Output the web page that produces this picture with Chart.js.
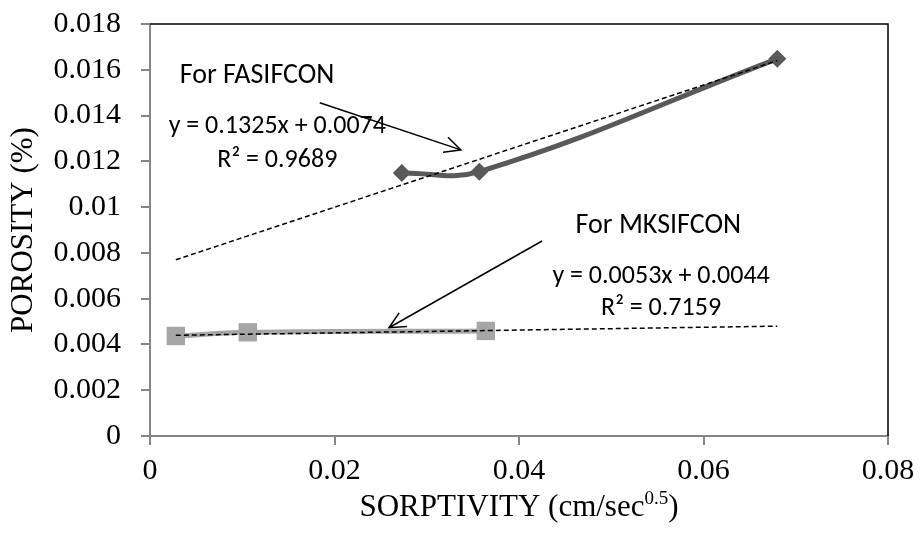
<!DOCTYPE html>
<html>
<head>
<meta charset="utf-8">
<script src="https://cdn.jsdelivr.net/npm/chart.js@4.4.1/dist/chart.umd.min.js"></script>
<style>
    html, body { margin: 0; padding: 0; background: #fff; }
    #wrap { width: 919px; height: 533px; }
</style>
</head>
<body>
<div id="wrap"><canvas id="chart"></canvas></div>
<script>
const xTicks = [0, 0.02, 0.04, 0.06, 0.08];
const xTickLabels = ['0', '0.02', '0.04', '0.06', '0.08'];
const yTicks = [0, 0.002, 0.004, 0.006, 0.008, 0.01, 0.012, 0.014, 0.016, 0.018];
const yTickLabels = ['0', '0.002', '0.004', '0.006', '0.008', '0.01', '0.012', '0.014', '0.016', '0.018'];

// measured points
const fasifconX = [0.0273, 0.0357, 0.0680];
const fasifconY = [0.01149, 0.01155, 0.01648];
const mksifconX = [0.0028, 0.0106, 0.0364];
const mksifconY = [0.00437, 0.00453, 0.00459];

// linear trend lines, end points
const fasifconTrendX = [0.0028, 0.068];
const fasifconTrendY = [0.0077, 0.0164];
const mksifconTrendX = [0.0028, 0.068];
const mksifconTrendY = [0.0044, 0.0048];

const xTitle = 'SORPTIVITY (cm/sec';
const xTitleSup = '0.5';
const yTitle = 'POROSITY (%)';

// text notes and arrows, placed in data units
const noteHeads = [
    { text: 'For FASIFCON', x: 0.0116, y: 0.01541 },
    { text: 'For MKSIFCON', x: 0.0551, y: 0.00887 },
];
const noteEquations = [
    { text: 'y = 0.1325x + 0.0074', x: 0.0138, y: 0.01322 },
    { text: 'R² = 0.9689', x: 0.0138, y: 0.01177 },
    { text: 'y = 0.0053x + 0.0044', x: 0.0554, y: 0.00667 },
    { text: 'R² = 0.7159', x: 0.0554, y: 0.00529 },
];
const arrows = [
    { from: [0.0184, 0.01456], to: [0.0337, 0.0125] },
    { from: [0.0425, 0.00852], to: [0.0259, 0.00473] },
];

const pts = (xs, ys) => xs.map((x, i) => ({ x, y: ys[i] }));

const AXIS_GREY = '#868686';
const SERIF = "'Liberation Serif', 'Times New Roman', serif";
const SANS = "Carlito, Calibri, Lato, sans-serif";

const extras = {
    id: 'extras',
    afterDatasetsDraw(chart) {
        const { ctx, chartArea: a, scales: { x, y } } = chart;
        ctx.save();
        // black frame on top and right
        ctx.strokeStyle = '#000';
        ctx.lineWidth = 1.5;
        ctx.beginPath();
        ctx.moveTo(a.left, a.top);
        ctx.lineTo(a.right, a.top);
        ctx.lineTo(a.right, a.bottom);
        ctx.stroke();

        // arrows
        arrows.forEach((ar) => {
            const x1 = x.getPixelForValue(ar.from[0]), y1 = y.getPixelForValue(ar.from[1]);
            const x2 = x.getPixelForValue(ar.to[0]), y2 = y.getPixelForValue(ar.to[1]);
            const ang = Math.atan2(y2 - y1, x2 - x1);
            const h = 18;
            ctx.beginPath();
            ctx.moveTo(x1, y1);
            ctx.lineTo(x2, y2);
            ctx.moveTo(x2 - h * Math.cos(ang - 0.45), y2 - h * Math.sin(ang - 0.45));
            ctx.lineTo(x2, y2);
            ctx.lineTo(x2 - h * Math.cos(ang + 0.45), y2 - h * Math.sin(ang + 0.45));
            ctx.stroke();
        });

        // notes
        ctx.fillStyle = '#000';
        ctx.textAlign = 'center';
        ctx.textBaseline = 'alphabetic';
        ctx.font = `28px ${SANS}`;
        noteHeads.forEach((n) => ctx.fillText(n.text, x.getPixelForValue(n.x), y.getPixelForValue(n.y)));
        ctx.font = `26px ${SANS}`;
        noteEquations.forEach((n) => ctx.fillText(n.text, x.getPixelForValue(n.x), y.getPixelForValue(n.y)));

        // x axis title with superscript
        ctx.textAlign = 'left';
        const big = `31px ${SERIF}`, small = `19px ${SERIF}`;
        ctx.font = big;
        const w1 = ctx.measureText(xTitle).width;
        const w3 = ctx.measureText(')').width;
        ctx.font = small;
        const w2 = ctx.measureText(xTitleSup).width;
        const cx = (a.left + a.right) / 2;
        const base = 516;
        let tx = cx - (w1 + w2 + w3) / 2;
        ctx.font = big;
        ctx.fillText(xTitle, tx, base);
        tx += w1;
        ctx.font = small;
        ctx.fillText(xTitleSup, tx, base - 12);
        tx += w2;
        ctx.font = big;
        ctx.fillText(')', tx, base);
        ctx.restore();
    },
};

new Chart(document.getElementById('chart'), {
    type: 'scatter',
    data: {
        datasets: [
            {
                label: 'FASIFCON trend', data: pts(fasifconTrendX, fasifconTrendY), order: 0,
                showLine: true, borderColor: '#000', borderWidth: 1.5, borderDash: [5, 3],
                pointRadius: 0, tension: 0,
            },
            {
                label: 'MKSIFCON trend', data: pts(mksifconTrendX, mksifconTrendY), order: 0,
                showLine: true, borderColor: '#000', borderWidth: 1.5, borderDash: [5, 3],
                pointRadius: 0, tension: 0,
            },
            {
                label: 'FASIFCON', data: pts(fasifconX, fasifconY), order: 1,
                showLine: true, borderColor: '#595959', backgroundColor: '#595959', borderWidth: 5,
                pointStyle: 'rectRot', pointRadius: 9, pointBorderWidth: 0, tension: 0.4,
            },
            {
                label: 'MKSIFCON', data: pts(mksifconX, mksifconY), order: 1,
                showLine: true, borderColor: '#a6a6a6', backgroundColor: '#a6a6a6', borderWidth: 5,
                pointStyle: 'rect', pointRadius: 13, pointBorderWidth: 0, tension: 0.4,
            },
        ],
    },
    options: {
        responsive: true,
        maintainAspectRatio: false,
        animation: false,
        layout: { padding: { top: 24, right: 31, left: 0, bottom: 0 } },
        plugins: { legend: { display: false }, tooltip: { enabled: false } },
        scales: {
            x: {
                type: 'linear', min: 0, max: 0.08,
                afterBuildTicks: (s) => { s.ticks = xTicks.map((v) => ({ value: v })); },
                afterFit: (s) => { s.height = 97; s.paddingLeft = 0; s.paddingRight = 0; },
                ticks: {
                    callback: (v) => xTickLabels[xTicks.indexOf(v)],
                    font: { family: SERIF, size: 30 }, color: '#000', padding: 8,
                },
                grid: { drawOnChartArea: false, drawTicks: true, tickLength: 9, color: AXIS_GREY, lineWidth: 2 },
                border: { color: AXIS_GREY, width: 2 },
            },
            y: {
                type: 'linear', min: 0, max: 0.018,
                afterBuildTicks: (s) => { s.ticks = yTicks.map((v) => ({ value: v })); },
                afterFit: (s) => { s.width = 150; s.paddingTop = 0; s.paddingBottom = 0; },
                ticks: {
                    callback: (v) => yTickLabels[yTicks.findIndex((t) => Math.abs(t - v) < 1e-9)],
                    font: { family: SERIF, size: 30 }, color: '#000', padding: 20,
                },
                grid: { drawOnChartArea: false, drawTicks: true, tickLength: 9, color: AXIS_GREY, lineWidth: 2 },
                border: { color: AXIS_GREY, width: 2 },
                title: { display: true, text: yTitle, font: { family: SERIF, size: 31 }, color: '#000', padding: { top: 5 } },
            },
        },
    },
    plugins: [extras],
});
</script>
</body>
</html>
